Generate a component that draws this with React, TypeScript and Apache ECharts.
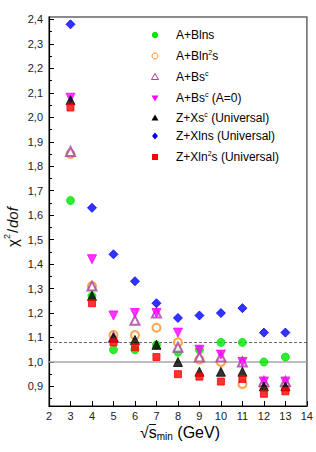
import React, { useEffect, useRef } from "react";
import * as echarts from "echarts";

const xValues = [3, 4, 5, 6, 7, 8, 9, 10, 11, 12, 13];
const seriesNames = [
  "A+Blns",
  "A+Bln²s",
  "A+Bsᶜ",
  "A+Bsᶜ (A=0)",
  "Z+Xsᶜ (Universal)",
  "Z+Xlns (Universal)",
  "Z+Xln²s (Universal)",
];
const greenABlns = [1.66, 1.27, 1.05, 1.05, 1.07, 1.04, 1.05, 1.08, 1.08, 1.0, 1.02];
const orangeABln2s = [1.85, 1.31, 1.11, 1.11, 1.14, 1.08, 1.01, 1.0, 0.91, 0.9, 0.9];
const purpleABsc = [1.86, 1.31, 1.1, 1.17, 1.2, 1.06, 1.02, 1.02, 1.0, 0.92, 0.92];
const magentaABscA0 = [2.08, 1.42, 1.19, 1.2, 1.2, 1.12, 1.05, 1.03, 1.0, 0.92, 0.92];
const blackZXsc = [2.07, 1.27, 1.1, 1.09, 1.07, 1.0, 0.96, 0.96, 0.96, 0.9, 0.9];
const blueZXlns = [2.38, 1.63, 1.44, 1.33, 1.24, 1.18, 1.19, 1.2, 1.22, 1.12, 1.12];
const redZXln2s = [2.04, 1.24, 1.08, 1.06, 1.02, 0.95, 0.94, 0.92, 0.93, 0.87, 0.88];
const yMajorTicks = [0.9, 1.0, 1.1, 1.2, 1.3, 1.4, 1.5, 1.6, 1.7, 1.8, 1.9, 2.0, 2.1, 2.2, 2.3, 2.4];
const yMinorTicks = [0.85, 0.95, 1.05, 1.15, 1.25, 1.35, 1.45, 1.55, 1.65, 1.75, 1.85, 1.95, 2.05, 2.15, 2.25, 2.35];
const refSolid = 1.0;
const refDashed = 1.08;

const FONT = "Liberation Sans, Arial, sans-serif";

export default function App() {
  const ref = useRef<HTMLDivElement>(null);
  useEffect(() => {
    if (!ref.current) return;
    const chart = echarts.init(ref.current, undefined, { renderer: "svg" });
    const pts = (arr: number[]) => xValues.map((x, i) => [x, arr[i]]);
    const styles = [
      { data: greenABlns, symbol: "circle", size: 8, color: "#00e600", rotate: 0 },
      { data: orangeABln2s, symbol: "emptyCircle", size: 8, color: "#ff8c1a", rotate: 0 },
      { data: purpleABsc, symbol: "emptyTriangle", size: 9, color: "#a43fa4", rotate: 0 },
      { data: magentaABscA0, symbol: "triangle", size: 9, color: "#ff00ff", rotate: 180 },
      { data: blackZXsc, symbol: "triangle", size: 9, color: "#000000", rotate: 0 },
      { data: blueZXlns, symbol: "diamond", size: 9, color: "#0000ff", rotate: 0 },
      { data: redZXln2s, symbol: "rect", size: 7, color: "#ff0000", rotate: 0 },
    ];
    const series: any[] = styles.map((s, i) => ({
      type: "scatter",
      name: seriesNames[i],
      data: pts(s.data),
      symbol: s.symbol,
      symbolSize: s.size,
      symbolRotate: s.rotate,
      itemStyle: { color: s.color, borderColor: s.color, borderWidth: 1 },
      z: 3,
    }));
    series[0].markLine = {
      silent: true,
      symbol: "none",
      label: { show: false },
      z: 1,
      data: [
        { yAxis: refSolid, lineStyle: { color: "#a8a8a8", width: 1.5, type: "solid" } },
        { yAxis: refDashed, lineStyle: { color: "#444", width: 0.8, type: [3, 2] } },
      ],
    };

    const legendRows = [35, 56, 77, 98, 118, 136, 157];
    const legendGraphics: any[] = [];
    const lx = 155;
    const tx = 176;
    const rich = {
      a: { fontSize: 12, fontFamily: FONT, color: "#111", lineHeight: 14 },
      sup: { fontSize: 7, fontFamily: FONT, color: "#111", lineHeight: 7, verticalAlign: "top" },
    };
    const legendTexts = [
      "{a|A+Blns}",
      "{a|A+Bln}{sup|2}{a|s}",
      "{a|A+Bs}{sup|c}",
      "{a|A+Bs}{sup|c}{a| (A=0)}",
      "{a|Z+Xs}{sup|c}{a| (Universal)}",
      "{a|Z+Xlns (Universal)}",
      "{a|Z+Xln}{sup|2}{a|s (Universal)}",
    ];
    legendRows.forEach((y, i) => {
      const c = styles[i].color;
      let shape: any;
      if (i === 0) shape = { type: "circle", shape: { cx: lx, cy: y, r: 3.2 }, style: { fill: c } };
      else if (i === 1) shape = { type: "circle", shape: { cx: lx, cy: y, r: 3 }, style: { fill: "#fff", stroke: c, lineWidth: 1 } };
      else if (i === 2) shape = { type: "polygon", shape: { points: [[lx, y - 3.5], [lx + 3.5, y + 2.5], [lx - 3.5, y + 2.5]] }, style: { fill: "#fff", stroke: c, lineWidth: 1 } };
      else if (i === 3) shape = { type: "polygon", shape: { points: [[lx - 3.5, y - 2.5], [lx + 3.5, y - 2.5], [lx, y + 3.5]] }, style: { fill: c } };
      else if (i === 4) shape = { type: "polygon", shape: { points: [[lx, y - 3.5], [lx + 3.5, y + 2.5], [lx - 3.5, y + 2.5]] }, style: { fill: c } };
      else if (i === 5) shape = { type: "polygon", shape: { points: [[lx, y - 3.5], [lx + 3, y], [lx, y + 3.5], [lx - 3, y]] }, style: { fill: c } };
      else shape = { type: "rect", shape: { x: lx - 3, y: y - 3, width: 6, height: 6 }, style: { fill: c } };
      legendGraphics.push(shape);
      legendGraphics.push({
        type: "text",
        x: tx,
        y,
        style: { text: legendTexts[i], rich, verticalAlign: "middle", align: "left" },
      });
    });

    const option: any = {
      animation: false,
      backgroundColor: "#fff",
      grid: { left: 49, right: 9, top: 17, bottom: 46, show: true, borderColor: "#666", borderWidth: 1.5, backgroundColor: "transparent" },
      xAxis: {
        type: "value",
        min: 2,
        max: 14,
        interval: 1,
        axisLine: { lineStyle: { color: "#000", width: 1.2 } },
        axisTick: { inside: true, length: 5, lineStyle: { color: "#000" } },
        axisLabel: { fontSize: 11, fontFamily: FONT, color: "#222", margin: 4 },
        splitLine: { show: false },
      },
      yAxis: [
        {
          type: "value",
          min: 0.82,
          max: 2.41,
          axisLine: { show: true, lineStyle: { color: "#000", width: 1.2 } },
          axisTick: { show: true, inside: true, length: 5, customValues: yMajorTicks, lineStyle: { color: "#000" } },
          axisLabel: {
            fontSize: 11,
            fontFamily: FONT,
            color: "#222",
            margin: 6,
            customValues: yMajorTicks,
            formatter: (v: number) => v.toFixed(1).replace(".", ","),
          },
          splitLine: { show: false },
        },
        {
          type: "value",
          min: 0.82,
          max: 2.41,
          position: "left",
          offset: 0,
          axisLine: { show: false },
          axisTick: { show: true, inside: true, length: 3, customValues: yMinorTicks, lineStyle: { color: "#000" } },
          axisLabel: { show: false },
          splitLine: { show: false },
        },
      ],
      series,
      graphic: [
        ...legendGraphics,
        {
          type: "group",
          x: 20,
          y: 247,
          rotation: Math.PI / 2,
          children: [
            { type: "text", x: 0, y: 0, style: { text: "χ", fontSize: 15, fontFamily: FONT, fill: "#111", verticalAlign: "bottom" } },
            { type: "text", x: 8, y: -9, style: { text: "2", fontSize: 9, fontFamily: FONT, fill: "#111", verticalAlign: "bottom" } },
            { type: "text", x: 14, y: 0, style: { text: "/", fontSize: 15, fontFamily: FONT, fill: "#111", verticalAlign: "bottom" } },
            { type: "text", x: 19, y: 0, style: { text: "dof", fontSize: 15, fontStyle: "italic", fontFamily: FONT, fill: "#111", verticalAlign: "bottom" } },
          ],
        },
        {
          type: "text",
          x: 140,
          y: 432,
          style: {
            text: "{a|√s}{sub|min}{a| (GeV)}",
            verticalAlign: "middle",
            align: "left",
            rich: {
              a: { fontSize: 16, fontFamily: FONT, color: "#111", lineHeight: 18 },
              sub: { fontSize: 10, fontFamily: FONT, color: "#111", lineHeight: 10, verticalAlign: "bottom" },
            },
          },
        },
        { type: "line", shape: { x1: 149, y1: 424.5, x2: 156, y2: 424.5 }, style: { stroke: "#111", lineWidth: 1 } },
      ],
    };
    chart.setOption(option);
    return () => chart.dispose();
  }, []);
  return <div ref={ref} style={{ position: "absolute", left: 0, top: 0, width: 316, height: 452 }} />;
}
